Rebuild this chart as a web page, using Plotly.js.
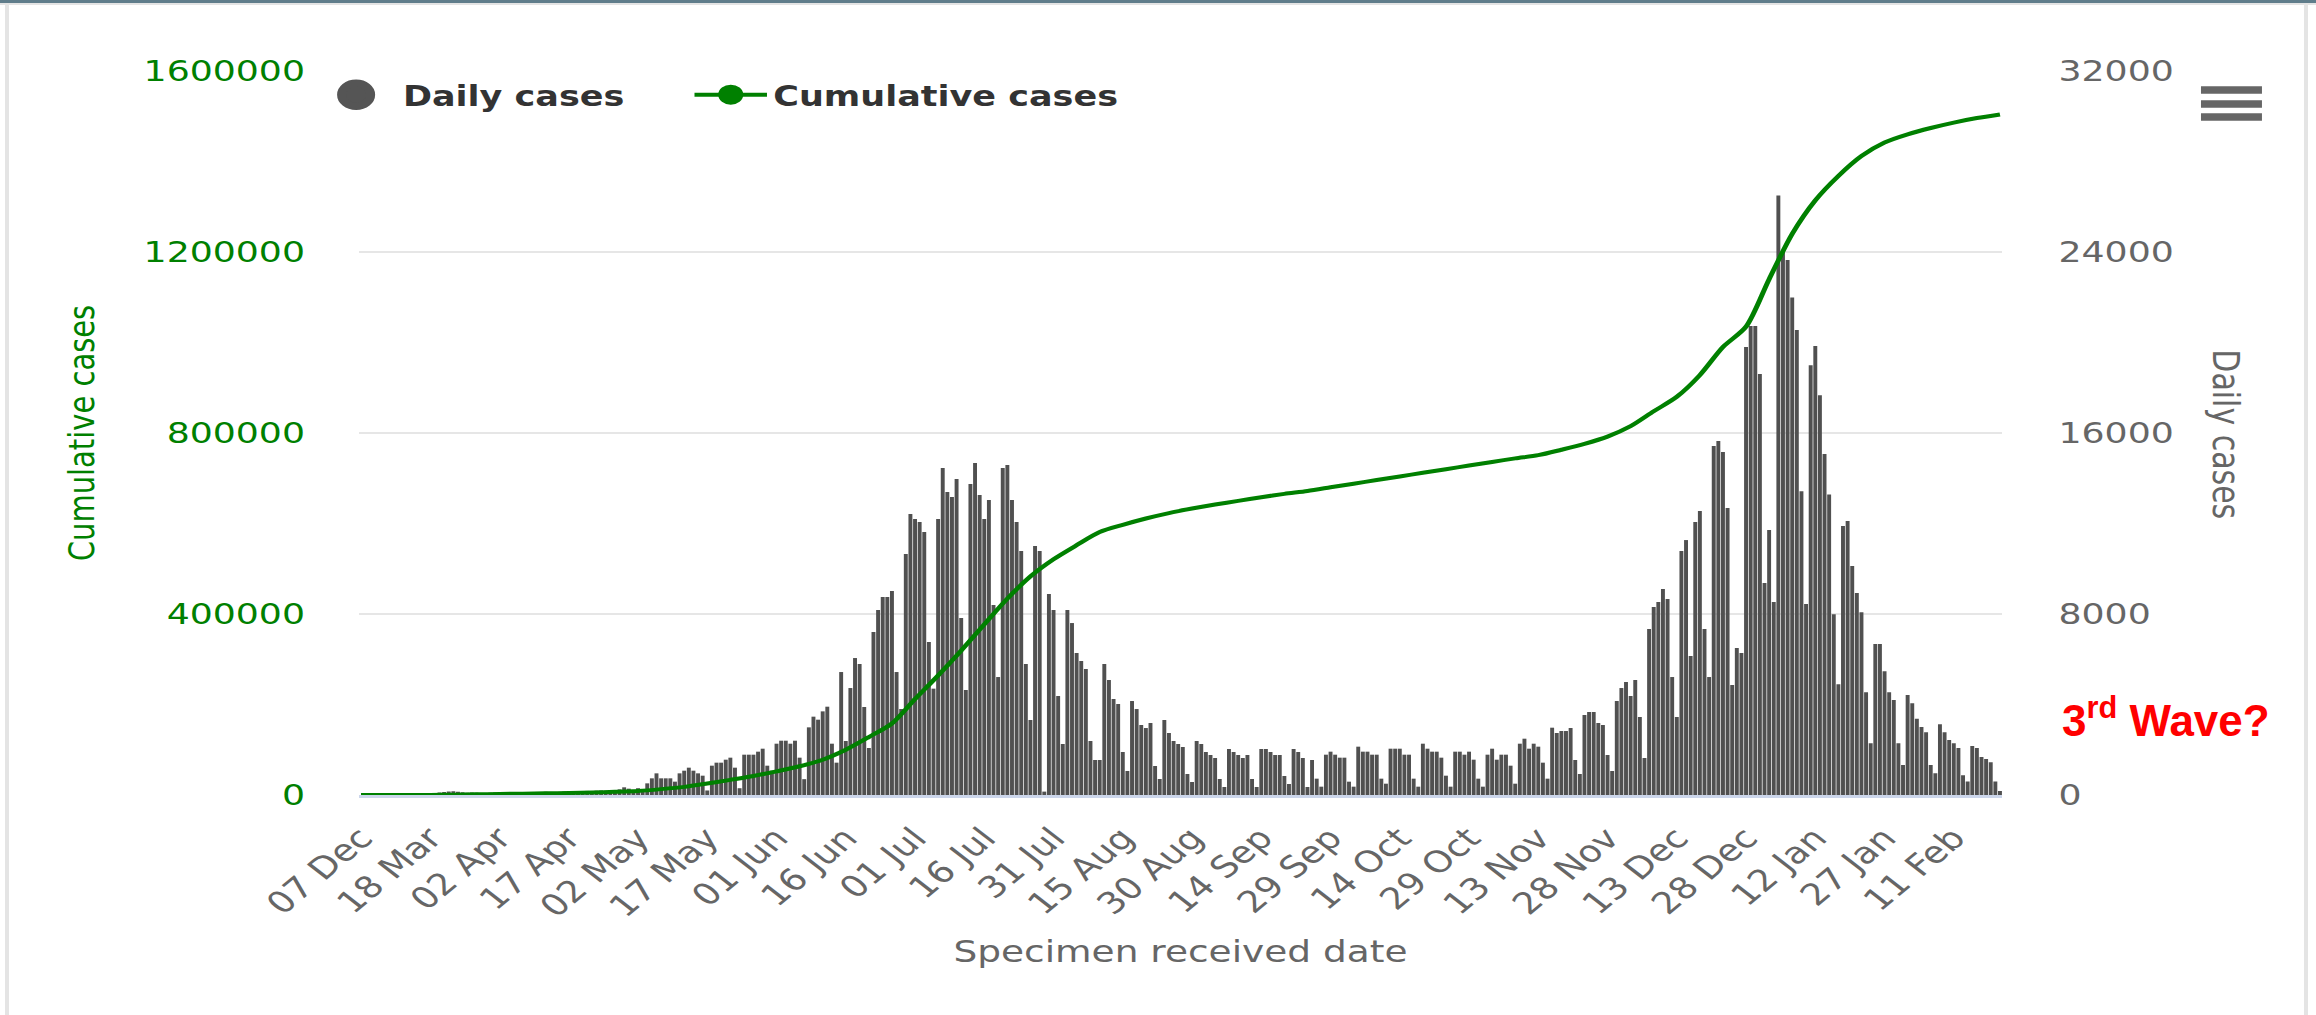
<!DOCTYPE html>
<html>
<head>
<meta charset="utf-8">
<script src="https://cdn.plot.ly/plotly-3.0.1.min.js"></script>
<style>
html,body{margin:0;padding:0;background:#fff;width:2316px;height:1015px;overflow:hidden;}
#wrap{position:absolute;left:0;top:0;width:1853px;height:1015px;transform:scaleX(1.24986);transform-origin:0 0;}
.frame{position:absolute;}
.annotation[data-index="1"] text.annotation-text{transform-box:fill-box;transform-origin:center;transform:scaleX(0.8);}
g.legend .legendpoints path.scatterpts{transform:translate(37.5px,0px) scale(1.45);}
</style>
</head>
<body>
<div id="wrap"><div id="chart" style="width:1853px;height:1015px"></div></div>
<div class="frame" style="left:0;top:0;width:2316px;height:3px;background:#607d8b"></div>
<div class="frame" style="left:0;top:3px;width:2316px;height:2px;background:#e4e4e4"></div>
<div class="frame" style="left:5px;top:3px;width:4px;height:1012px;background:#e4e4e4"></div>
<div class="frame" style="left:2304px;top:3px;width:4px;height:1012px;background:#e4e4e4"></div>
<script>
// ---- categories (07 Dec 2019, then daily from 04 Mar 2020 to 21 Feb 2021) ----
const dates = ['2019-12-07'];
const startDay = Date.UTC(2020, 2, 4);
for (let i = 0; i < 355; i++) dates.push(new Date(startDay + i * 86400000).toISOString().slice(0, 10));

// ---- x tick labels ----
const tickDates = ['2019-12-07','2020-03-18','2020-04-02','2020-04-17','2020-05-02','2020-05-17','2020-06-01','2020-06-16',
  '2020-07-01','2020-07-16','2020-07-31','2020-08-15','2020-08-30','2020-09-14','2020-09-29','2020-10-14','2020-10-29',
  '2020-11-13','2020-11-28','2020-12-13','2020-12-28','2021-01-12','2021-01-27','2021-02-11'];
const tickLabels = ['07 Dec','18 Mar','02 Apr','17 Apr','02 May','17 May','01 Jun','16 Jun','01 Jul','16 Jul','31 Jul',
  '15 Aug','30 Aug','14 Sep','29 Sep','14 Oct','29 Oct','13 Nov','28 Nov','13 Dec','28 Dec','12 Jan','27 Jan','11 Feb'];

// ---- daily cases (one per category) ----
const dailyCases = [
  1,
  1, 0, 2, 3, 4, 6, 7, 10, 14, 20, 28, 35,
  45, 60, 75, 90, 110, 130, 150, 165, 140, 120, 100, 110, 95, 80, 90, 100, 110, 120,
  105, 95, 85, 100, 120, 110, 90, 115, 130, 140, 125, 110, 135, 150, 160,
  140, 150, 170, 180, 160, 190, 200, 185, 170, 210, 250, 340, 280, 230, 300, 260,
  515, 737, 957, 737, 737, 737, 590, 957, 1075, 1208, 1075, 957, 854, 200, 1296, 1429, 1429, 1561, 1650, 1208,
  300, 1782, 1782, 1782, 1915, 2047, 1296, 1075, 2268, 2400, 2400, 2268, 2400, 1650, 700, 2990, 3462, 3329, 3697, 3903, 2268,
  1429, 5435, 2386, 4728, 6054, 5789, 3889, 2077, 7203, 8175, 8750, 8750, 9015, 5435, 3800, 10650, 12418, 12196, 12064, 11622,
  6761, 4700, 12196, 14450, 13390, 13169, 13964, 7821, 4640, 13743, 14671, 13257, 12196, 13036, 8396, 5214, 14450, 14583, 13036, 12064,
  10782, 5789, 3314, 11003, 10782,
  150,
  8882, 8175, 4375, 2254, 8175, 7600, 6275, 5921, 5568, 2386, 1547, 1547, 5789, 5082, 4242, 4021, 1900, 1060, 4154, 3800,
  3093, 2960, 3182, 1281, 707, 3314, 2740, 2386, 2254, 2121, 928, 574, 2386, 2254, 1900, 1768, 1635, 707, 353, 2033,
  1900, 1768, 1635, 1768, 707, 353, 2033, 2033, 1900, 1768, 1768, 840, 486, 2033, 1900, 1635, 353, 1547,
  722, 368, 1782, 1915, 1782, 1650, 1650, 589, 368, 2136, 1915, 1915, 1782, 1782, 722, 500, 2047, 2047, 2047, 1782,
  1782, 722, 368, 2268, 2047, 1915, 1915, 1650, 854, 368, 1915, 1915, 1782, 1915, 1561, 722, 368, 1782, 2047, 1561,
  1782, 1782, 1296, 500, 2268, 2489, 2047, 2268, 2136, 1429, 722, 2975,
  2740, 2828, 2828, 2961, 1547, 928, 3535, 3668, 3668, 3182, 3093, 1768, 1060, 4154, 4728, 4994, 4375, 5082, 3447, 1635,
  7335, 8308, 8529, 9103, 8661, 5214, 3447, 10782, 11268, 6142, 12064, 12550, 7335, 5214, 15422, 15643, 15157, 12683, 4861, 6496,
  6275, 19797, 20725, 20725, 18604, 9368, 11710, 8529, 26500, 24000,
  23650, 21990, 20556, 13425, 8443, 19000, 19840, 17673, 15068, 13285, 7988, 4894, 11886, 12114, 10121, 8932, 8076, 4545, 2290, 6677,
  6677, 5471, 4545, 4195, 2290, 1328, 4422, 4055, 3374, 3007, 2779, 1328, 961, 3129, 2779, 2430, 2290, 2080, 874, 594,
  2168, 2080, 1678, 1591, 1451, 594, 175
];

// ---- cumulative cases, read every 5th category ----
const cumIndex = [0,5,10,15,20,25,30,35,40,45,50,55,60,65,70,75,80,85,90,95,100,105,110,115,120,125,130,135,140,145,
  150,155,160,165,170,175,180,185,190,195,200,205,210,215,220,225,230,235,240,245,250,255,260,265,270,275,280,285,
  290,295,300,305,310,315,320,325,330,335,340,345,350,355];
const cumulativeCases = [0,10,60,250,800,1500,2300,3000,3700,4500,5500,7000,9000,13000,18000,25500,33500,42000,52300,63500,
  78000,100000,128000,158000,212000,264000,319000,377000,434000,483000,521000,552000,581000,597000,611000,623000,633000,
  642000,650000,658000,665500,672000,680000,688000,696000,704000,712000,720000,728000,736000,744000,751000,763000,776000,
  792000,815000,848000,880000,928000,990000,1035000,1140000,1240000,1314000,1368000,1412000,1442000,1460000,1474000,
  1486000,1496000,1504000];

// ---- axis ticks ----
const dailyTicks = [0, 8000, 16000, 24000, 32000];
const cumTicks = [0, 400000, 800000, 1200000, 1600000];

const GREEN = '#008000';
const BAR = '#505050';

const traces = [
  {type:'bar', x:dates, y:dailyCases, yaxis:'y', marker:{color:BAR}, showlegend:false, hoverinfo:'skip'},
  {type:'scatter', mode:'lines', x:cumIndex.map(i => dates[i]), y:cumulativeCases, yaxis:'y2',
   line:{color:GREEN, width:4, shape:'spline', smoothing:0.8}, showlegend:false, hoverinfo:'skip'},
  {type:'scatter', mode:'markers', x:[null], y:[null], yaxis:'y', name:'Daily cases', legend:'legend',
   marker:{color:'#555555', size:16, line:{color:'#555555', width:5}}},
  {type:'scatter', mode:'lines+markers', x:[null], y:[null], yaxis:'y2', name:'Cumulative cases', legend:'legend2',
   line:{color:GREEN, width:4}, marker:{color:GREEN, size:16, line:{color:GREEN, width:4}}}
];

const legendFont = {family:'DejaVu Sans', size:28, color:'#333333', weight:'bold'};

const layout = {
  width:1853, height:1015, autosize:false,
  margin:{l:287, r:251, t:71, b:220, pad:0},
  paper_bgcolor:'#ffffff', plot_bgcolor:'#ffffff',
  font:{family:'DejaVu Sans', color:'#666666'},
  bargap:0.15,
  hovermode:false,
  xaxis:{type:'category', categoryorder:'array', categoryarray:dates, range:[-0.5, 355.5],
    tickmode:'array', tickvals:tickDates, ticktext:tickLabels, tickangle:-46,
    tickfont:{size:30, color:'#666666'}, ticks:'', showgrid:false, zeroline:false,
    showline:true, linecolor:'#ccd6eb', linewidth:2.5, ticklabelstandoff:11, automargin:false,
    title:{text:'Specimen received date', font:{size:30, color:'#666666'}, standoff:19}},
  yaxis:{side:'right', range:[0, 32000], tickmode:'array', tickvals:dailyTicks, tickformat:'d',
    tickfont:{size:29, color:'#666666'}, showgrid:true, gridcolor:'#e6e6e6', gridwidth:2.5,
    zeroline:false, showline:false, ticks:'', ticklabelstandoff:44, automargin:false},
  yaxis2:{overlaying:'y', side:'left', range:[0, 1600000], tickmode:'array', tickvals:cumTicks, tickformat:'d',
    tickfont:{size:29, color:GREEN}, showgrid:false, zeroline:false, showline:false, ticks:'',
    ticklabelstandoff:42, automargin:false,
    title:{text:'Cumulative cases', font:{size:29, color:GREEN}, standoff:30}},
  legend:{x:-0.0301, xanchor:'left', y:0.9669, yanchor:'middle', orientation:'h', itemwidth:65,
    font:legendFont, bgcolor:'rgba(0,0,0,0)', borderwidth:0},
  legend2:{x:0.2005, xanchor:'left', y:0.9669, yanchor:'middle', orientation:'h', itemwidth:58,
    font:legendFont, bgcolor:'rgba(0,0,0,0)', borderwidth:0},
  annotations:[
    {text:'Daily cases', textangle:90, xref:'paper', yref:'paper', x:1.1367, y:0.4986,
     xanchor:'center', yanchor:'middle', showarrow:false, font:{size:30, color:'#666666'}},
    {text:'3<sup>rd</sup> Wave?', xref:'paper', yref:'paper', x:1.0996, y:0.1077,
     xanchor:'center', yanchor:'middle', showarrow:false,
     font:{family:'Liberation Sans', size:44, color:'#ff0000', weight:'bold'}}
  ],
  shapes:[0.9738, 0.9544, 0.9365].map(yy => ({type:'line', xref:'paper', yref:'paper',
    x0:1.1209, x1:1.1580, y0:yy, y1:yy, line:{color:'#666666', width:7.5}}))
};

Plotly.newPlot('chart', traces, layout, {displayModeBar:false, staticPlot:true});
</script>
</body>
</html>
